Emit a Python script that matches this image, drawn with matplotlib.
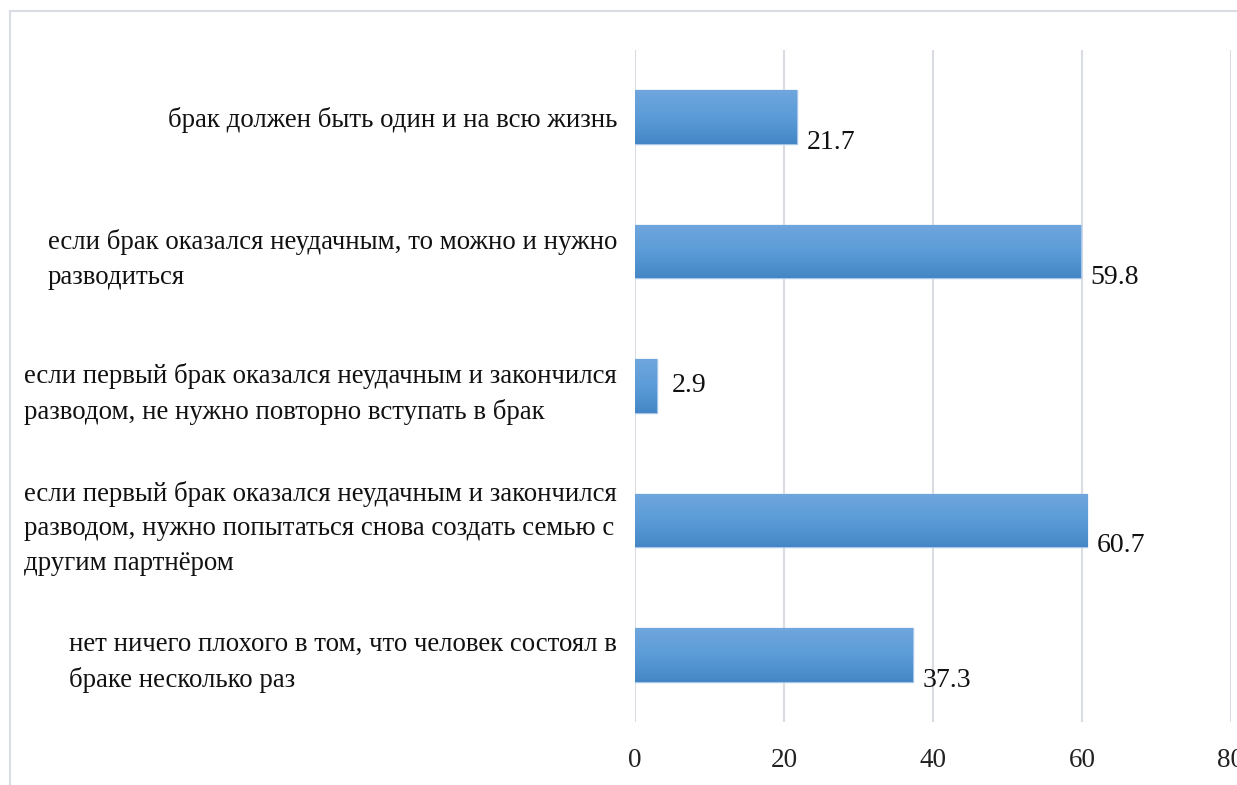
import matplotlib
matplotlib.use("Agg")
import matplotlib.pyplot as plt
import numpy as np
from matplotlib.patches import Rectangle
from matplotlib.colors import LinearSegmentedColormap

categories = [
    "брак должен быть один и на всю жизнь",
    "если брак оказался неудачным, то можно и нужно\nразводиться",
    "если первый брак оказался неудачным и закончился\nразводом, не нужно повторно вступать в брак",
    "если первый брак оказался неудачным и закончился\nразводом, нужно попытаться снова создать семью с\nдругим партнёром",
    "нет ничего плохого в том, что человек состоял в\nбраке несколько раз",
]
values = [21.7, 59.8, 2.9, 60.7, 37.3]
x_ticks = [0, 20, 40, 60, 80]

plt.rcParams['font.family'] = ['Liberation Serif', 'DejaVu Serif']

fig = plt.figure(figsize=(12.37, 7.85), dpi=100)
# outer chart frame
fig.patches.append(Rectangle((10 / 1237, -0.01), 1.1, 1 - 11 / 785 + 0.01,
                             transform=fig.transFigure, fill=False,
                             edgecolor='#d9dde3', linewidth=1.5))

ax = fig.add_axes([635 / 1237, 1 - 722 / 785, (1231 - 635) / 1237, (722 - 50) / 785])
ypos = np.arange(len(values))
bars = ax.barh(ypos, values, height=0.4, color='#5b9bd5', edgecolor='#a8c6e8',
               linewidth=1.0, zorder=2)

# vertical gradient fill inside each bar
cmap = LinearSegmentedColormap.from_list('grad', ['#6fa6dd', '#5b9cd8', '#4586c6'])
grad = np.linspace(0, 1, 64).reshape(-1, 1)
for b in bars:
    x0, y0 = b.get_x(), b.get_y()
    w, h = b.get_width(), b.get_height()
    im = ax.imshow(grad, cmap=cmap, aspect='auto', extent=(x0, x0 + w, y0 + h, y0),
                   origin='upper', zorder=2.5)
    im.set_clip_path(b)

ax.set_xlim(0, 80)
ax.set_ylim(len(values) - 0.5, -0.5)
ax.set_xticks(x_ticks)
ax.set_xticklabels([str(t) for t in x_ticks], fontsize=19.5, color='#222222')
ax.set_yticks(ypos)
ax.set_yticklabels(categories, fontsize=19.4, color='#111111', ha='right',
                   multialignment='left', linespacing=1.5)
ax.tick_params(axis='y', length=0, pad=13)
ax.tick_params(axis='x', length=0, pad=19)
ax.grid(axis='x', color='#d9dde3', linewidth=1.5, zorder=0)
for s in ax.spines.values():
    s.set_visible(False)

for i, (b, v) in enumerate(zip(bars, values)):
    if v < 10:
        ax.annotate(f"{v}", (v, b.get_y() + b.get_height() / 2), xytext=(11, 0),
                    textcoords='offset points', va='center', ha='left',
                    fontsize=20, color='#111111')
    else:
        ax.annotate(f"{v}", (v, b.get_y() + b.get_height()), xytext=(7, 1),
                    textcoords='offset points', va='center', ha='left',
                    fontsize=20, color='#111111')

fig.savefig("out.png", dpi=100)
